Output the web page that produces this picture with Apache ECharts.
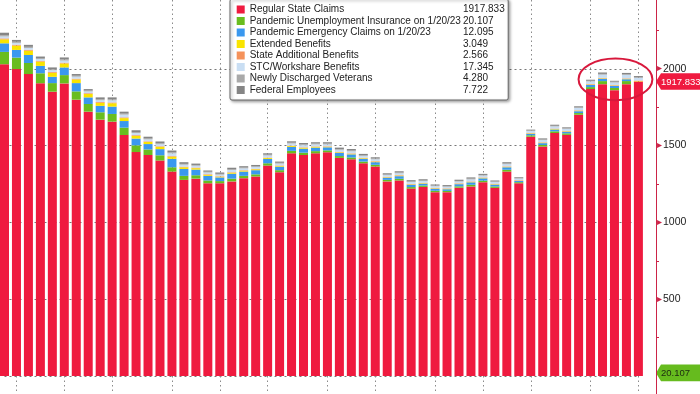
<!DOCTYPE html>
<html><head><meta charset="utf-8">
<script src="https://cdn.jsdelivr.net/npm/echarts@6/dist/echarts.min.js"></script>
<style>html,body{margin:0;padding:0;background:#fff}#c{width:700px;height:394px}</style>
</head><body><div id="c"></div>
<script>
const weeks = ['2022-01-28','2022-02-04','2022-02-11','2022-02-18','2022-02-25','2022-03-04','2022-03-11','2022-03-18','2022-03-25','2022-04-01','2022-04-08','2022-04-15','2022-04-22','2022-04-29','2022-05-06','2022-05-13','2022-05-20','2022-05-27','2022-06-03','2022-06-10','2022-06-17','2022-06-24','2022-07-01','2022-07-08','2022-07-15','2022-07-22','2022-07-29','2022-08-05','2022-08-12','2022-08-19','2022-08-26','2022-09-02','2022-09-09','2022-09-16','2022-09-23','2022-09-30','2022-10-07','2022-10-14','2022-10-21','2022-10-28','2022-11-04','2022-11-11','2022-11-18','2022-11-25','2022-12-02','2022-12-09','2022-12-16','2022-12-23','2022-12-30','2023-01-06','2023-01-13','2023-01-20','2023-01-27','2023-02-03'];
const regular = [2030,1998,1966,1906,1851,1905,1799,1721,1669,1656,1569,1458,1439,1403,1331,1277,1285,1255,1255,1267,1288,1299,1370,1327,1450,1439,1450,1457,1420,1411,1385,1364,1267,1273,1220,1231,1197,1197,1226,1234,1262,1225,1331,1255,1558,1494,1582,1570,1701,1868,1900,1861,1900,1917.833];
const pua = [80,75,72,65,56,54,54,50,48,50,48,44,36,34,28,26,22,18,14,18,15,14,15,13,16,15,14,12,12,12,11,11,10,11,10,9,9,8,9,11,10,9,12,7,9,10,11,10,11,13,20,14,20.107,null];
const peuc = [56,50,52,48,41,50,54,43,42,48,43,44,35,40,55,45,37,30,24,32,28,27,28,23,25,26,23,20,21,20,18,17,14,17,15,12,13,11,14,16,15,12,16,8,10,12,12,10,12,14,15,13,12.095,null];
const extended = [26,28,28,28,26,26,24,22,20,22,19,17,14,15,14,11,9,7,5,7,6,6,6,5,6,6,5,4,4,4,4,4,3,4,3,3,3,3,3,3,3,3,3,2,3,3,3,3,3,3,3,3,3,3.049];
const stateAdd = [6,6,6,5,5,5,5,5,5,5,5,5,4,4,4,4,4,4,3,3,3,3,3,3,3,3,3,3,3,3,3,3,3,3,3,3,3,3,3,3,3,3,3,3,3,3,3,3,3,3,3,3,3,2.566];
const workshare = [13,12,12,12,12,14,13,12,12,14,18,14,13,13,18,13,12,11,10,14,12,12,14,12,14,14,13,12,13,13,12,12,11,12,12,11,11,10,11,13,12,11,14,10,12,14,14,13,15,17,21,17,22,17.345];
const veterans = [8,7,7,6,6,7,6,5,6,6,6,6,5,6,6,5,5,5,5,5,5,5,5,5,5,5,5,5,5,5,5,5,4,5,4,4,4,4,4,5,4,4,5,4,4,4,4,4,4,4,5,5,5,4.28];
const federal = [16,12,13,10,12,13,11,10,12,13,13,12,12,12,12,11,9,8,9,10,9,8,9,8,9,9,9,9,9,10,8,8,8,8,8,8,7,7,8,8,7,6,8,5,5,7,7,6,7,7,9,6,8,7.722];
const seriesNames = ['Regular State Claims','Pandemic Unemployment Insurance on 1/20/23','Pandemic Emergency Claims on 1/20/23','Extended Benefits','State Additional Benefits','STC/Workshare Benefits','Newly Discharged Veterans','Federal Employees'];
const yTicks = [0,500,1000,1500,2000];

const seriesData = [regular,pua,peuc,extended,stateAdd,workshare,veterans,federal];
const colors = ['#ef1a3f','#69bd1f','#3a98ef','#f9e400','#f5925a','#c9def3','#a9a9a9','#858585'];
const FONT = "'Liberation Sans',Arial,sans-serif";
const GRID_LEFT = 4.5, GRID_W = 633.9, AXIS_OFF = 17.6;
const AXIS_X = GRID_LEFT + GRID_W + AXIS_OFF;
const AXIS_RED = '#cc2448';

function lastVal(arr){ for(let i=arr.length-1;i>=0;i--){ if(arr[i]!=null) return arr[i]; } return null; }
const lastMap = {};
seriesNames.forEach((n,i)=>{ lastMap[n] = lastVal(seriesData[i]).toFixed(3); });
function monthTick(idx){ return idx>0 && weeks[idx].slice(0,7)!==weeks[idx-1].slice(0,7); }

const chart = echarts.init(document.getElementById('c'), null, {renderer:'canvas'});
const option = {
  animation:false,
  backgroundColor:'#fff',
  grid:[
    {left:GRID_LEFT, width:GRID_W, top:-1, bottom:18},
    {left:GRID_LEFT, width:GRID_W, top:0, bottom:0}
  ],
  legend:{
    orient:'vertical', left:230, top:-1,
    padding:[5.5,3.5,5,6.7],
    itemWidth:8, itemHeight:8, itemGap:1.5,
    icon:'rect',
    backgroundColor:'#fff', borderColor:'#666', borderWidth:1, borderRadius:2,
    shadowColor:'rgba(0,0,0,0.35)', shadowBlur:3, shadowOffsetX:1.5, shadowOffsetY:1.5,
    selectedMode:false,
    data:seriesNames,
    formatter:(name)=>`{n|${name}}{v|${lastMap[name]}}`,
    textStyle:{color:'#222', fontFamily:FONT, fontSize:10,
      rich:{ n:{width:213.3, fontFamily:FONT, fontSize:10, color:'#222'},
             v:{fontFamily:FONT, fontSize:10, color:'#222'} } }
  },
  xAxis:[
    {type:'category', gridIndex:0, data:weeks, boundaryGap:false,
     axisLine:{show:false}, axisLabel:{show:false},
     axisTick:{show:true, length:18, interval:monthTick, lineStyle:{color:'#8a8a8a', type:[1.5,3]}},
     splitLine:{show:true, interval:monthTick, lineStyle:{color:'#8a8a8a', type:[1.5,3]}}},
    {type:'category', gridIndex:1, data:weeks, show:false}
  ],
  yAxis:[
    {type:'value', gridIndex:0, position:'right', offset:AXIS_OFF, min:0, max:2448, interval:500,
     axisLine:{show:false}, axisTick:{show:false},
     minorTick:{show:true, splitNumber:2, length:3, lineStyle:{color:AXIS_RED}},
     axisLabel:{showMaxLabel:false, showMinLabel:false, margin:1,
       formatter:(v)=> yTicks.indexOf(v)>=0 ? `{a|▸}{b|${v}}` : '',
       rich:{ a:{color:AXIS_RED, fontSize:10, fontFamily:'DejaVu Sans'},
              b:{color:'#222', fontSize:10.5, fontFamily:FONT, padding:[0,0,0,1]} } },
     splitLine:{show:true, showMaxLine:false, lineStyle:{color:'#777', type:[2,3], width:1}}},
    {type:'value', gridIndex:1, position:'right', offset:AXIS_OFF, min:0, max:1,
     axisLine:{show:true, lineStyle:{color:AXIS_RED, width:1}},
     axisTick:{show:false}, axisLabel:{show:false}, splitLine:{show:false}}
  ],
  series: seriesNames.map((n,i)=>({
    name:n, type:'bar', stack:'total', xAxisIndex:0, yAxisIndex:0,
    barWidth:9, data:seriesData[i], itemStyle:{color:colors[i]}, emphasis:{disabled:true}
  }))
};
chart.setOption(option);

// decorations computed from data through the chart's scales
const yPix = v => chart.convertToPixel({yAxisIndex:0}, v);
const xPix = i => chart.convertToPixel({xAxisIndex:0}, weeks[i]);
function tag(value, text, bg, fg){
  const y = yPix(value);
  return {type:'group', x:AXIS_X, y:y, z:100, children:[
    {type:'polygon', shape:{points:[[0,0],[5,-8.3],[60,-8.3],[60,8.3],[5,8.3]]}, style:{fill:bg}},
    {type:'text', x:5, y:0.5, style:{text:text, fill:fg, font:'9.5px '+FONT, verticalAlign:'middle', align:'left'}}
  ]};
}
const n = weeks.length;
const i0 = n-5, i1 = n-1;
let maxTot = 0, minReg = Infinity;
for(let i=i0;i<=i1;i++){
  let t=0; seriesData.forEach(a=>{ t += (a[i]||0); });
  maxTot = Math.max(maxTot,t); minReg = Math.min(minReg, regular[i]);
}
const xa = xPix(i0), xb = xPix(i1);
const yt = yPix(maxTot), yb = yPix(minReg);
chart.setOption({graphic:[
  tag(lastVal(pua), lastVal(pua).toFixed(3), '#66bb1e', '#1d2a10'),
  tag(lastVal(regular), lastVal(regular).toFixed(3), '#ef1a3f', '#ffffff'),
  {type:'ellipse', z:100, shape:{cx:(xa+xb)/2+1, cy:(yt+yb)/2-2, rx:(xb-xa)/2+13, ry:(yb-yt)/2+12},
   style:{fill:null, stroke:'#d8183c', lineWidth:2}}
]});
</script></body></html>
